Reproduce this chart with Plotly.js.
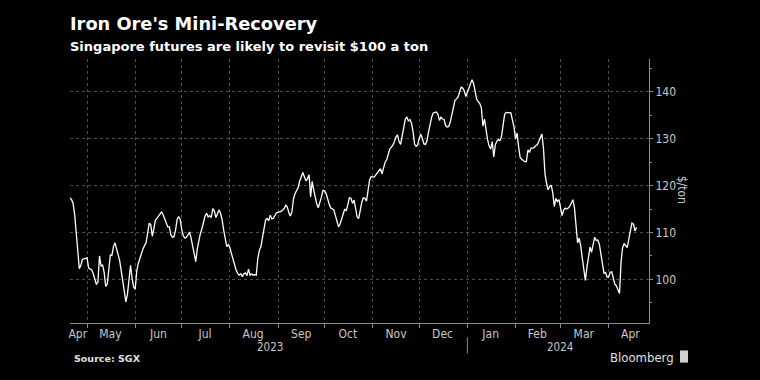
<!DOCTYPE html>
<html>
<head>
<meta charset="utf-8">
<script src="https://cdn.plot.ly/plotly-3.0.1.min.js"></script>
<style>
html,body{margin:0;padding:0;background:#000;}
#chart{width:760px;height:380px;}
</style>
</head>
<body>
<div id="chart"></div>
<script>
// SGX iron ore futures, $/ton, daily readings per month
const apr23 = [117.4,117.0,116.2,113.8,110.0,106.0,102.3,103.0,104.3,104.4,104.5]; // from Apr 20
const may23 = [104.6,102.4,102.2,102.0,101.2,100.0,98.9,99.5,105.0,102.8,103.1,101.5,98.5,99.0,102.2,105.2,105.1,107.0,107.8,106.5,105.6,104.0,101.8,99.8,97.4,95.2,96.8,100.7,103.0,100.2,98.4];
const jun23 = [97.9,101.8,103.4,104.5,105.4,106.5,107.2,107.8,109.8,112.0,111.7,109.2,110.8,112.6,113.0,113.5,114.0,114.4,113.8,113.0,112.0,111.2,111.2,109.5,109.0,109.1,110.5,112.8,113.4,112.8];
const jul23 = [110.6,109.3,108.8,109.0,109.5,110.1,108.8,107.0,105.0,103.8,106.5,108.4,109.8,110.8,112.3,113.5,114.1,113.3,113.6,113.2,115.1,114.6,113.2,114.0,114.8,114.1,112.7,110.5,108.6,107.0,107.4];
const aug23 = [106.8,105.5,104.3,103.2,102.0,101.3,100.9,101.2,100.6,101.2,101.4,100.8,102.2,100.9,101.2,100.9,101.0,100.9,104.5,106.2,107.0,108.9,111.2,112.7,113.0,112.5,113.7,112.9,113.0,113.5,114.2];
const sep23 = [114.3,114.4,114.5,114.8,115.1,115.8,115.4,114.2,113.5,114.5,117.2,118.3,118.9,119.6,121.0,121.9,122.8,121.9,121.0,121.5,122.3,117.6,120.9,119.1,117.2,116.0,115.3,116.3,117.6,119.0];
const oct23 = [118.9,118.3,116.9,116.0,115.2,115.0,114.8,113.6,112.5,111.2,111.8,113.0,114.4,115.0,114.6,115.8,117.4,117.3,116.2,116.9,115.1,113.3,113.0,114.9,116.5,117.4,117.3,116.7,118.9,121.2,121.9];
const nov23 = [121.8,121.8,122.3,122.7,123.2,123.6,122.5,124.0,125.0,125.5,126.5,127.8,128.2,128.6,129.4,130.4,130.8,129.4,128.8,130.9,132.9,134.2,134.6,133.8,134.1,133.3,131.5,128.8,128.4,128.7];
const dec23 = [130.1,131.0,130.0,128.9,128.8,129.6,131.5,133.4,134.6,135.5,135.6,135.7,135.2,133.9,134.6,134.2,134.1,132.8,132.5,132.6,133.6,135.0,136.8,138.2,138.5,138.9,140.0,141.0,140.8,140.2,139.0];
const jan24 = [140.0,140.9,142.0,142.6,141.8,139.9,138.4,137.9,137.5,136.6,132.7,134.2,131.9,129.8,128.5,127.8,129.4,126.1,128.7,129.5,129.8,129.6,130.5,133.0,135.2,135.6,135.6,135.6,135.5,134.0,132.6];
const feb24 = [130.0,131.2,128.3,126.0,125.6,125.3,125.1,125.1,127.6,127.1,128.0,128.0,128.1,128.5,128.7,129.4,130.2,131.0,128.0,122.5,120.5,119.1,119.8,120.1,118.5,115.5,117.3,116.6,117.0];
const mar24 = [115.4,113.6,114.8,115.2,115.0,115.2,115.6,116.4,117.0,115.2,111.0,107.8,108.8,107.2,104.6,102.0,99.8,102.5,105.4,106.9,105.8,107.9,109.0,108.3,108.4,107.5,105.5,102.6,101.3,101.5,100.5];
const apr24 = [100.5,101.5,101.6,100.0,99.0,98.6,97.9,97.0,103.7,106.8,107.6,107.2,106.8,108.6,110.5,112.0,111.8,110.3,111.1]; // to Apr 19

const segMonths = ['2023-04','2023-05','2023-06','2023-07','2023-08','2023-09','2023-10','2023-11','2023-12','2024-01','2024-02','2024-03','2024-04'];
const segFirstDay = [20,1,1,1,1,1,1,1,1,1,1,1,1];
const segValues = [apr23,may23,jun23,jul23,aug23,sep23,oct23,nov23,dec23,jan24,feb24,mar24,apr24];

const monthStarts = ['2023-05-01','2023-06-01','2023-07-01','2023-08-01','2023-09-01','2023-10-01','2023-11-01','2023-12-01','2024-01-01','2024-02-01','2024-03-01','2024-04-01'];
const monthLabelDates = ['2023-04-25','2023-05-16','2023-06-16','2023-07-16','2023-08-16','2023-09-16','2023-10-16','2023-11-16','2023-12-16','2024-01-16','2024-02-15','2024-03-16','2024-04-15'];
const monthLabels = ['Apr','May','Jun','Jul','Aug','Sep','Oct','Nov','Dec','Jan','Feb','Mar','Apr'];
const yTicks = [100,110,120,130,140];
const yMinorTicks = [95,105,115,125,135,145];
const yearLabels = ['2023','2024'];

const dates = [], prices = [];
segValues.forEach(function(arr, i){
  arr.forEach(function(v, j){
    const d = segFirstDay[i] + j;
    dates.push(segMonths[i] + '-' + (d < 10 ? '0' + d : d));
    prices.push(v);
  });
});

const condensed = '"DejaVu Sans Condensed", "Liberation Sans Narrow", Roboto, sans-serif';
const axisGrey = '#8a8a8a';
const gridGrey = '#4d4d4d';

const trace = {
  type: 'scatter', mode: 'lines',
  x: dates, y: prices,
  line: {color: '#ffffff', width: 1.3},
  hoverinfo: 'skip'
};

const layout = {
  width: 760, height: 380,
  paper_bgcolor: '#000', plot_bgcolor: '#000',
  margin: {l: 70, r: 111, t: 59, b: 57},
  showlegend: false,
  xaxis: {
    type: 'date', range: ['2023-04-20', '2024-04-27'],
    tickmode: 'array', tickvals: monthLabelDates, ticktext: monthLabels,
    ticks: '', showgrid: false, zeroline: false,
    showline: true, linecolor: axisGrey, linewidth: 1,
    tickfont: {family: condensed, size: 12, color: '#c8c8c8'},
    minor: {tickmode: 'array', tickvals: monthStarts, showgrid: true, gridcolor: gridGrey, griddash: 'dot', gridwidth: 1,
            ticks: 'outside', ticklen: 4, tickcolor: axisGrey, tickwidth: 1}
  },
  yaxis: {
    side: 'right', range: [90.7, 147],
    tickmode: 'array', tickvals: yTicks,
    showgrid: true, gridcolor: gridGrey, griddash: 'dot', gridwidth: 1,
    zeroline: false, showline: true, linecolor: axisGrey, linewidth: 1,
    ticks: 'outside', ticklen: 3, tickcolor: axisGrey,
    tickfont: {family: condensed, size: 12, color: '#c8c8c8'},
    minor: {tickmode: 'array', tickvals: yMinorTicks, ticks: 'outside', ticklen: 2, tickcolor: axisGrey, showgrid: false}
  },
  annotations: [
    {text: "<b>Iron Ore's Mini-Recovery</b>", xref: 'paper', yref: 'paper', x: 0, y: 1.134, xanchor: 'left', yanchor: 'middle',
     showarrow: false, xshift: -2, font: {family: '"DejaVu Sans", sans-serif', size: 17.8, color: '#ffffff'}},
    {text: '<b>Singapore futures are likely to revisit $100 a ton</b>', xref: 'paper', yref: 'paper', x: 0, y: 1.047, xanchor: 'left', yanchor: 'middle',
     showarrow: false, xshift: -2, font: {family: '"DejaVu Sans", sans-serif', size: 13, color: '#ffffff'}},
    {text: yearLabels[0], xref: 'paper', yref: 'paper', x: 0.3454, y: -0.0905, xanchor: 'center', yanchor: 'middle',
     showarrow: false, font: {family: condensed, size: 11.5, color: '#c8c8c8'}},
    {text: yearLabels[1], xref: 'paper', yref: 'paper', x: 0.846, y: -0.0905, xanchor: 'center', yanchor: 'middle',
     showarrow: false, font: {family: condensed, size: 11.5, color: '#c8c8c8'}},
    {text: '$/ton', xref: 'paper', yref: 'paper', x: 1.0575, y: 0.504, xanchor: 'center', yanchor: 'middle', textangle: 90,
     showarrow: false, font: {family: condensed, size: 12, color: '#c8c8c8'}},
    {text: '<b>Source: SGX</b>', xref: 'paper', yref: 'paper', x: 0.004, y: -0.134, xanchor: 'left', yanchor: 'middle',
     showarrow: false, font: {family: '"DejaVu Sans", sans-serif', size: 9.5, color: '#e0e0e0'}},
    {text: 'Bloomberg', xref: 'paper', yref: 'paper', x: 1.0466, y: -0.13, xanchor: 'right', yanchor: 'middle',
     showarrow: false, font: {family: condensed, size: 13, color: '#e0e0e0'}}
  ],
  shapes: [
    {type: 'line', xref: 'x', yref: 'paper', x0: '2024-01-01', x1: '2024-01-01', y0: -0.054, y1: -0.115,
     line: {color: axisGrey, width: 1}},
    {type: 'rect', xref: 'paper', yref: 'paper', x0: 1.0535, x1: 1.0674, y0: -0.104, y1: -0.15,
     fillcolor: '#d0d0d0', line: {width: 0}}
  ]
};

Plotly.newPlot('chart', [trace], layout, {displayModeBar: false, staticPlot: true});
</script>
</body>
</html>
